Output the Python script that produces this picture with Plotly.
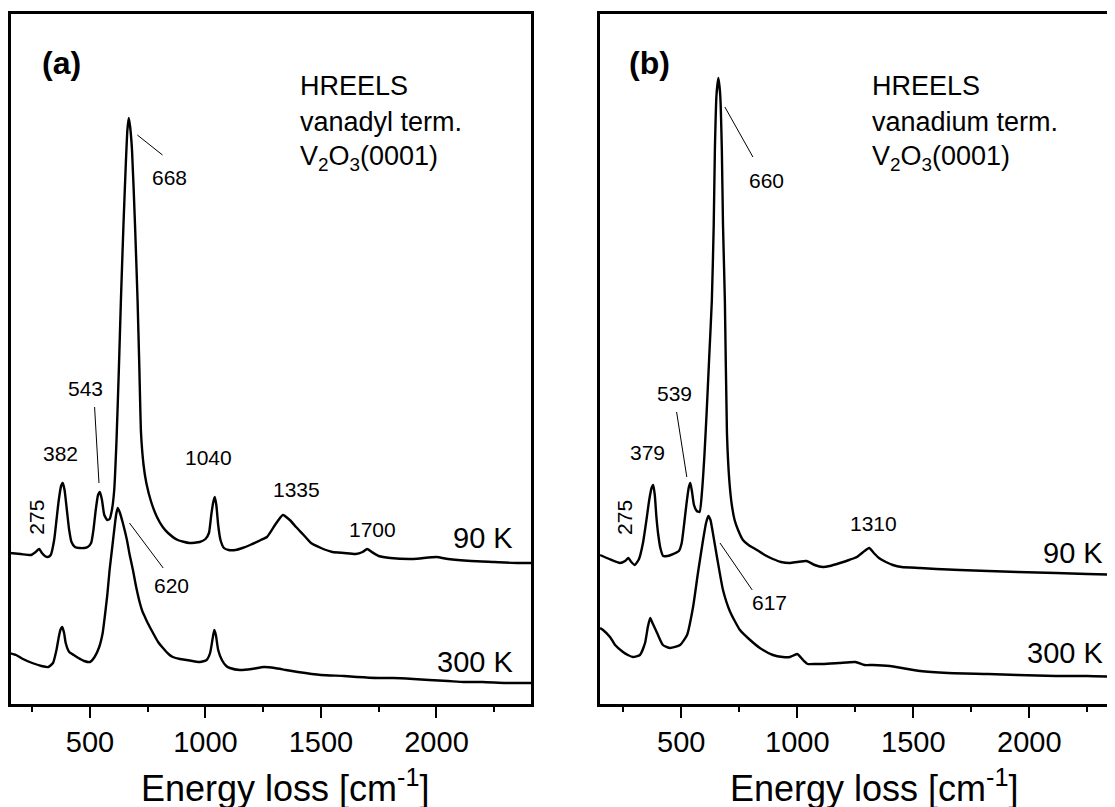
import plotly.graph_objects as go

# ---------------- data (energy loss in cm^-1, intensity in arb. units) ----------------
a90_x = [150, 200, 245, 265, 280, 292, 305, 318, 330, 345, 355, 365, 375, 382, 390, 400, 410, 420, 435, 455,
         475, 490, 505, 515, 525, 535, 543, 552, 562, 575, 585, 595, 605, 615, 625, 634, 645, 655, 662, 668,
         674, 682, 695, 706, 714, 721, 732, 744, 765, 790, 815, 838, 880, 930, 975, 1000, 1015, 1025, 1033, 1040,
         1047, 1055, 1065, 1080, 1100, 1130, 1160, 1193, 1240, 1266, 1301, 1335, 1365, 1392, 1425, 1457, 1500, 1550, 1600, 1650,
         1680, 1700, 1720, 1750, 1800, 1900, 2000, 2050, 2150, 2250, 2350, 2410]
a90_y = [152, 151, 150, 153, 156, 152, 149, 148, 150, 165, 185, 205, 219, 222, 215, 195, 175, 163, 158, 157,
         157, 158, 162, 175, 195, 210, 213, 205, 190, 185, 186, 195, 215, 265, 335, 405, 480, 540, 575, 587,
         578, 555, 480, 405, 335, 272, 240, 222, 203, 188, 178, 172, 165, 162, 163, 166, 172, 190, 202, 208,
         200, 180, 165, 157, 155, 155, 157, 160, 165, 168, 180, 190, 185, 178, 170, 162, 157, 153, 152, 151,
         153, 156, 153, 149, 147, 146, 148, 146, 144, 143, 142, 142]

a300_x = [150, 180, 210, 250, 290, 320, 340, 355, 365, 372, 380, 388, 395, 410, 430, 450, 475, 500, 520, 540,
          555, 565, 575, 585, 595, 605, 613, 620, 630, 640, 650, 660, 672, 686, 700, 716, 728, 738, 750, 773,
          795, 816, 840, 859, 890, 920, 976, 1005, 1020, 1030, 1038, 1045, 1055, 1071, 1090, 1106, 1149, 1200, 1253, 1300,
          1348, 1400, 1500, 1600, 1656, 1750, 1812, 1900, 1968, 2050, 2119, 2200, 2300, 2410]
a300_y = [52, 50, 46, 42, 39, 38, 42, 55, 68, 75, 78, 72, 62, 53, 50, 47, 44, 43, 48, 58,
          72, 90, 110, 135, 155, 175, 190, 197, 192, 184, 175, 165, 150, 135, 118, 102, 93, 88, 82, 72,
          63, 57, 51, 48, 46, 45, 43, 45, 52, 65, 75, 70, 55, 45, 39, 37, 35, 36, 38, 37,
          35, 33, 30, 29, 28, 27, 27, 26, 25, 24, 23, 23, 22, 22]

b90_x = [150, 190, 236, 258, 272, 285, 300, 318, 335, 350, 362, 372, 379, 386, 393, 400, 410, 422, 440, 455,
         475, 490, 502, 512, 522, 532, 539, 546, 555, 567, 579, 590, 600, 610, 620, 632, 640, 645, 652, 660,
         668, 675, 680, 688, 697, 707, 718, 730, 745, 766, 790, 826, 860, 895, 930, 968, 1000, 1040, 1075, 1111,
         1140, 1184, 1223, 1257, 1290, 1310, 1330, 1352, 1382, 1412, 1450, 1529, 1600, 1700, 1822, 1950, 2115, 2250, 2404]
b90_y = [150, 146, 142, 144, 147, 143, 140, 146, 162, 185, 205, 217, 220, 210, 188, 172, 157, 149, 149, 150,
         152, 154, 162, 180, 200, 217, 222, 214, 200, 194, 193, 215, 250, 295, 345, 405, 480, 555, 610, 627,
         610, 555, 480, 405, 272, 225, 200, 185, 175, 165, 160, 155, 150, 146, 143, 142, 143, 144, 140, 138,
         139, 142, 145, 148, 154, 157, 152, 147, 143, 140, 138, 137, 136, 135, 134, 133, 132, 131, 130]

b300_x = [150, 163, 193, 215, 249, 270, 292, 322, 344, 356, 366, 376, 396, 421, 452, 495, 525, 551, 572, 594,
          607, 617, 626, 632, 654, 680, 711, 753, 797, 839, 895, 938, 968, 1000, 1025, 1045, 1080, 1111, 1180, 1251,
          1290, 1326, 1399, 1529, 1650, 1822, 1950, 2115, 2250, 2404]
b300_y = [77, 75, 68, 60, 53, 50, 48, 50, 62, 78, 87, 82, 72, 60, 57, 60, 70, 98, 132, 165,
          182, 189, 185, 178, 148, 115, 93, 75, 65, 57, 50, 48, 48, 51, 45, 41, 41, 41, 42, 43,
          40, 40, 39, 34, 32, 31, 30, 29, 29, 28]

tick_vals = [500, 1000, 1500, 2000]
tick_text = ["500", "1000", "1500", "2000"]

# peak labels: (text, x, y, rotated)
a_labels = [("668", 846, 528, False), ("543", 481, 317, False), ("382", 373, 252, False),
            ("275", 265, 188, True), ("1040", 1015, 248, False), ("1335", 1392, 216, False),
            ("1700", 1725, 176, False), ("620", 854, 120, False)]
b_labels = [("660", 869, 525, False), ("539", 473, 312, False), ("379", 355, 253, False),
            ("275", 253, 188, True), ("1310", 1328, 182, False), ("617", 882, 103, False)]
# leader lines: (x0, y0, x1, y1)
a_leaders = [(705, 570, 814, 550), (520, 298, 539, 222), (671, 182, 817, 137)]
b_leaders = [(688, 598, 809, 548), (480, 293, 524, 228), (667, 162, 806, 115)]
temp_labels_a = [("90 K", 2340, 167), ("300 K", 2340, 43)]
temp_labels_b = [("90 K", 2326, 152), ("300 K", 2326, 52)]

# ---------------- figure ----------------
W, H = 1115, 807
OFF = 8  # page body margin
FONT = "Liberation Sans, Arial, sans-serif"

def px(x):
    return (x - OFF) / W

def py(y):
    return 1 - (y - OFF) / H

fig = go.Figure()
line = dict(color="black", width=2.4, shape="spline", smoothing=0.5)
for xs, ys, ax in [(a90_x, a90_y, "x"), (a300_x, a300_y, "x"), (b90_x, b90_y, "x2"), (b300_x, b300_y, "x2")]:
    fig.add_trace(go.Scatter(x=xs, y=ys, mode="lines", line=line, xaxis=ax,
                             yaxis="y" if ax == "x" else "y2", showlegend=False, hoverinfo="skip"))

ydom = [py(703.5), py(13.8)]
yr = [1.5, 691.2]
xcommon = dict(showline=True, linewidth=3, linecolor="black", mirror=True, ticks="outside",
               ticklen=11, tickwidth=2, tickcolor="black", tickvals=tick_vals, ticktext=tick_text,
               tickfont=dict(family=FONT, size=29, color="black"), showgrid=False, zeroline=False,
               minor=dict(ticks="outside", ticklen=5, tickwidth=2, tickcolor="black", dtick=250, tick0=0),
               ticklabelstandoff=0, automargin=False, fixedrange=True)
ycommon = dict(showline=True, linewidth=3, linecolor="black", showticklabels=False, ticks="",
               showgrid=False, zeroline=False, range=yr, domain=ydom, automargin=False)

fig.update_layout(
    width=W, height=H, margin=dict(l=0, r=0, t=0, b=0),
    paper_bgcolor="white", plot_bgcolor="white",
    xaxis=dict(domain=[px(10.5), px(531.2)], range=[156, 2410], anchor="y", **xcommon),
    yaxis=dict(anchor="x", mirror=True, **ycommon),
    xaxis2=dict(domain=[px(599.8), 1.0], range=[149, 2404], anchor="y2", **xcommon),
    yaxis2=dict(anchor="x2", mirror=False, **ycommon),
    font=dict(family=FONT, color="black"),
)

ann = []
def lab(text, x, y, size, xref="paper", yref="paper", xanchor="center", angle=0, bold=False):
    t = f"<b>{text}</b>" if bold else text
    ann.append(dict(text=t, x=x, y=y, xref=xref, yref=yref, showarrow=False, xanchor=xanchor,
                    yanchor="middle", textangle=angle, font=dict(family=FONT, size=size, color="black")))

for xr, yr_, labels, temps in [("x", "y", a_labels, temp_labels_a), ("x2", "y2", b_labels, temp_labels_b)]:
    for t, x, y, rot in labels:
        lab(t, x, y, 21, xref=xr, yref=yr_, angle=-90 if rot else 0)
    for t, x, y in temps:
        lab(t, x, y, 29, xref=xr, yref=yr_, xanchor="right")

# panel tags and descriptions
lab("(a)", px(61.5), py(63.5), 32, bold=True)
lab("(b)", px(649), py(63.5), 32, bold=True)
for x0, term in [(298, "vanadyl term."), (870, "vanadium term.")]:
    lab("HREELS", px(x0), py(86), 27, xanchor="left")
    lab(term, px(x0), py(122), 27, xanchor="left")
    lab("V<sub>2</sub>O<sub>3</sub>(0001)", px(x0), py(158), 27, xanchor="left")

# axis titles
lab("Energy loss [cm<sup>-1</sup>]", px(285), py(786), 36)
lab("Energy loss [cm<sup>-1</sup>]", px(874), py(786), 36)

fig.update_layout(annotations=ann)

shapes = []
for xr, yr_, leaders in [("x", "y", a_leaders), ("x2", "y2", b_leaders)]:
    for x0, y0, x1, y1 in leaders:
        shapes.append(dict(type="line", xref=xr, yref=yr_, x0=x0, y0=y0, x1=x1, y1=y1,
                           line=dict(color="black", width=1)))
fig.update_layout(shapes=shapes)

fig.write_html("out.html")
